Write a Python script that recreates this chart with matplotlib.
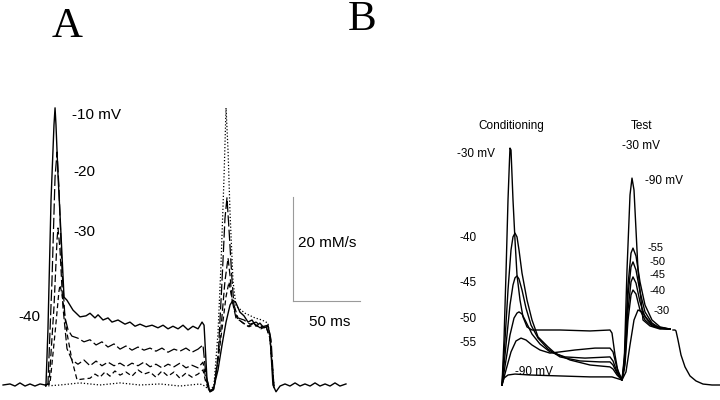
import matplotlib
matplotlib.use("Agg")
import matplotlib.pyplot as plt

# ---------------- Panel A: rate of Ca release (mM/s) vs time (ms) ----------------
# conditioning -10 mV (solid)
a10_t = [-31.3, -26.1, -22.4, -18.7, -14.9, -11.2, -7.5, -3.7, 0, 0.7, 2.2, 4.5, 6.7, 7.5, 8.2, 9.7,
         11.9, 14.2, 16.4, 20.9, 26.1, 30.6, 33.6, 37.3, 39.6, 43.3, 47.0, 50.0, 54.5, 59.7, 63.4,
         67.2, 70.9, 75.4, 79.9, 84.3, 88.1, 91.8, 95.5, 99.3, 103.0, 106.7, 110.4, 114.2, 117.2,
         118.7, 120.9, 123.1, 125.4, 129.1, 132.1, 135.1, 138.1, 140.3, 142.5, 145.5, 148.5, 151.5,
         154.5, 157.5, 160.4, 163.4, 166.4, 167.9, 170.1, 172.4, 175.4, 179.1, 182.8, 186.6, 190.3,
         194.0, 197.8, 201.5, 205.2, 209.0, 212.7, 216.4, 220.1, 224.6]
a10_v = [0, 0.2, -0.2, 0.4, -0.2, 0.2, -0.2, 0.2, 0, -0.2, 10.6, 35.6, 50.0, 53.3, 50.0, 40.4,
         29.2, 16.9, 16.3, 14.4, 13.1, 13.3, 13.8, 12.9, 13.5, 12.5, 12.9, 12.1, 12.5, 11.7, 12.1,
         11.3, 11.7, 11.2, 11.5, 11.0, 11.5, 10.8, 11.3, 10.8, 11.5, 10.6, 11.3, 10.8, 12.1,
         11.5, 1.0, -1.3, -1.0, 2.9, 7.7, 12.1, 15.4, 16.3, 15.8, 14.0, 13.3, 12.1,
         12.5, 11.3, 11.9, 11.0, 11.3, 9.6, 0, -1.3, -0.2, 0.2, -0.2, 0.4, -0.2,
         0.2, -0.2, 0.4, -0.2, 0.2, -0.2, 0.4, -0.2, 0.2]

# conditioning -20 mV (long dash)
a20_t = [0, 2.2, 5.2, 7.5, 9.0, 10.4, 12.7, 14.9, 17.2, 20.1, 24.6, 29.1, 33.6, 38.1, 42.5, 47.0,
         51.5, 56.0, 60.4, 64.9, 69.4, 73.9, 78.4, 82.8, 87.3, 91.8, 96.3, 100.7, 105.2, 109.7,
         114.2, 117.9, 120.1, 123.1, 126.1, 129.1, 132.1, 134.3, 135.8, 137.3, 139.6, 141.0, 144.0,
         148.5, 153.0, 157.5, 161.9, 166.4, 168.7, 170.9]
a20_v = [0, 0.2, 20.0, 40.0, 44.8, 38.0, 22.0, 13.0, 10.6, 9.4, 9.0, 8.3, 8.7, 7.7, 8.3, 7.3,
         7.9, 6.9, 7.5, 6.7, 7.3, 6.7, 7.1, 6.5, 7.1, 6.3, 6.9, 6.5, 7.1, 6.3,
         6.9, 7.7, 1.9, -1.2, -0.6, 5.0, 20.0, 32.0, 36.0, 30.0, 20.0, 15.4, 12.9,
         12.5, 11.7, 12.1, 11.2, 11.5, 8.7, -0.6]

# conditioning -30 mV (dash)
a30_t = [0, 3.0, 6.7, 9.0, 9.7, 11.2, 13.4, 16.4, 20.1, 24.6, 29.1, 33.6, 38.1, 42.5, 47.0, 51.5,
         56.0, 60.4, 64.9, 69.4, 73.9, 78.4, 82.8, 87.3, 91.8, 96.3, 100.7, 105.2, 109.7, 114.2,
         117.9, 120.1, 123.1, 126.1, 130.6, 134.3, 136.6, 138.1, 139.6, 142.5, 147.0, 151.5, 156.0,
         160.4, 164.9, 167.9, 170.9]
a30_v = [0, 0.2, 15.0, 28.0, 30.2, 26.0, 15.0, 7.0, 4.8, 4.0, 4.8, 3.7, 4.6, 3.7, 4.4, 3.7,
         4.2, 3.5, 4.2, 3.7, 4.4, 3.5, 4.0, 3.3, 4.0, 3.5, 4.2, 3.3, 3.8, 3.3,
         4.4, 1.0, -1.2, -0.6, 8.7, 20.0, 24.4, 21.0, 16.3, 12.9, 12.1, 11.3, 11.9,
         11.0, 11.3, 9.0, -0.6]

# conditioning -40 mV (short dash)
a40_t = [0, 3.7, 7.5, 10.4, 11.2, 12.7, 16.4, 20.1, 23.9, 29.9, 33.6, 37.3, 41.0, 44.8, 48.5, 52.2,
         56.0, 60.4, 64.9, 69.4, 73.9, 78.4, 82.8, 87.3, 91.8, 96.3, 100.7, 105.2, 109.7, 114.2,
         117.9, 120.1, 123.1, 126.1, 130.6, 135.1, 137.3, 140.3, 143.3, 147.8, 152.2, 156.7, 161.2,
         164.9, 167.9, 170.9]
a40_v = [0, 0.2, 10.0, 18.0, 19.2, 17.5, 10.0, 4.8, 1.0, 1.2, 1.3, 2.1, 1.5, 2.5, 1.7, 2.7,
         1.9, 2.5, 1.7, 2.9, 2.1, 2.5, 1.5, 2.7, 1.7, 2.5, 1.3, 2.3, 1.5, 2.1,
         2.9, 0.4, -1.3, -0.8, 7.7, 17.0, 19.8, 15.4, 12.9, 11.9, 11.2, 11.7, 10.8,
         11.3, 9.0, -0.6]

# no conditioning response (dotted)
a50_t = [0, 11.2, 26.1, 41.0, 56.0, 70.9, 85.8, 100.7, 115.7, 119.4, 123.1, 126.1, 129.1, 131.3,
         133.6, 135.1, 136.6, 138.1, 140.3, 142.5, 149.3, 156.7, 161.9, 166.4, 167.9, 170.9]
a50_v = [-0.2, 0, 0.4, 0, 0.4, 0, 0.2, -0.2, 0.2, -0.2, -1.2, 0, 10.0, 22.9,
         40.0, 53.3, 45.0, 33.0, 20.0, 15.2, 13.8, 12.9, 12.5, 11.9, 8.7, -0.2]

a_labels = ["-10 mV", "-20", "-30", "-40"]
scale_rate = 20   # mM/s
scale_time = 50   # ms

# ---------------- Panel B: normalized release vs time ----------------
b_labels_cond = ["-30 mV", "-40", "-45", "-50", "-55"]
b_labels_test = ["-55", "-50", "-45", "-40", "-30"]

b30_t = [0, 2, 4, 6, 7.5, 8, 9, 11, 13, 15, 18, 21, 25, 30, 58, 88, 108, 110, 113, 116, 120,
         124, 128, 132, 136, 140, 146, 154, 168]
b30_v = [0, 18.9, 47.0, 77.7, 94.5, 99.5, 98.7, 77.7, 60.9, 46.2, 35.7, 28.6, 24.4, 23.1, 23.1,
         22.7, 23.1, 21.8, 12.6, 5.5, 2.1, 5.5, 16.8, 27.3, 31.5, 30.7, 27.3, 24.4, 23.5]

b40_t = [0, 3, 6, 9, 11, 13, 15, 17, 20, 25, 30, 36, 46, 53, 68, 88, 108, 111, 115, 120, 123,
         126, 129, 131, 134, 138, 143, 150, 158, 168]
b40_v = [0, 18.9, 39.9, 56.7, 62.2, 63.8, 62.2, 56.7, 47.0, 35.7, 27.3, 20.2, 16.0, 13.4, 10.5,
         8.4, 7.6, 6.7, 4.2, 2.1, 8.4, 27.3, 37.8, 39.9, 38.2, 31.5, 27.3, 24.8, 23.9, 23.5]

b45_t = [0, 4, 8, 11, 13, 15, 17, 20, 24, 29, 36, 46, 58, 78, 98, 108, 111, 115, 120, 123, 126,
         129, 131, 134, 138, 143, 150, 158, 168]
b45_v = [0, 16.8, 33.6, 42.0, 45.0, 45.8, 44.5, 39.9, 32.3, 25.2, 19.7, 15.1, 11.8, 10.1, 9.7,
         9.7, 8.4, 5.0, 2.1, 10.5, 31.5, 43.3, 45.4, 42.8, 34.9, 28.6, 25.2, 23.9, 23.5]

b50_t = [0, 4, 8, 12, 15, 17, 20, 24, 30, 38, 48, 63, 83, 108, 111, 115, 120, 123, 126, 129, 131,
         134, 138, 143, 150, 158, 168]
b50_v = [0, 10.5, 21.0, 28.1, 30.2, 30.7, 29.8, 26.5, 21.4, 17.2, 13.9, 11.8, 11.3, 11.8, 10.1,
         5.5, 2.1, 12.6, 37.8, 49.6, 51.7, 48.3, 39.1, 30.7, 26.0, 23.9, 23.5]

b55_t = [0, 4, 9, 14, 19, 24, 30, 38, 48, 58, 73, 93, 108, 111, 115, 120, 123, 126, 129, 131, 134,
         138, 143, 150, 158, 168]
b55_v = [0, 6.3, 13.9, 18.5, 19.7, 18.9, 16.8, 14.7, 13.4, 13.9, 14.7, 15.5, 15.5, 13.9, 7.1, 2.1,
         14.7, 42.0, 55.4, 57.5, 54.2, 43.3, 33.6, 27.3, 24.4, 23.5]

b90_t = [0, 2, 6, 13, 28, 58, 88, 110, 120, 122, 125, 128, 130, 132, 136, 141, 148, 158, 168]
b90_v = [0, 2.9, 4.2, 4.6, 4.2, 3.8, 3.4, 3.4, 2.1, 6.3, 48.3, 79.8, 86.9, 81.9, 48.3, 27.3, 24.8,
         23.5, 23.5]

# shared tail after the test pulse
btail_t = [171, 173, 174, 176, 179, 183, 188, 194, 201, 210, 218]
btail_v = [23.1, 23.1, 22.7, 18.9, 12.6, 7.6, 3.8, 1.7, 0.4, 0, 0]

plt.rcParams["font.family"] = ["Liberation Sans", "DejaVu Sans"]
fig = plt.figure(figsize=(7.2, 4.0), dpi=100)

# panel A axes spans the left half of the figure
axA = fig.add_axes([0, 0, 0.5, 1])
axA.set_xlim(-33.58, 235.07)
axA.set_ylim(-2.885, 74.04)
axA.axis("off")

axA.plot(a50_t, a50_v, color="k", lw=0.9, ls=(0, (1, 1.6)))
axA.plot(a40_t, a40_v, color="k", lw=0.9, ls=(0, (4, 2.5)))
axA.plot(a30_t, a30_v, color="k", lw=0.9, ls=(0, (6, 2.5)))
axA.plot(a20_t, a20_v, color="k", lw=0.9, ls=(0, (9, 2.5)))
axA.plot(a10_t, a10_v, color="k", lw=1.0)

# scale bar
sx0 = 185.1
sy0 = 16.15
axA.plot([sx0, sx0], [sy0, sy0 + scale_rate], color="#9a9a9a", lw=0.8, clip_on=False)
axA.plot([sx0, sx0 + scale_time], [sy0, sy0], color="#9a9a9a", lw=0.8, clip_on=False)

# panel B axes spans the right half
axB = fig.add_axes([0.5, 0, 0.5, 1])
axB.set_xlim(-142, 218)
axB.set_ylim(-6.3, 161.7)
axB.axis("off")

for t, v in [(b30_t, b30_v), (b40_t, b40_v), (b45_t, b45_v), (b50_t, b50_v),
             (b55_t, b55_v), (b90_t, b90_v)]:
    axB.plot(t, v, color="k", lw=1.0)
axB.plot(btail_t, btail_v, color="k", lw=1.0)


def ftext(x, y, s, **kw):
    # place text using pixel position of the 720x400 figure
    fig.text(x / 720, 1 - y / 400, s, **kw)


# panel letters
ftext(67, 37, "A", family="Liberation Serif", fontsize=31, ha="center", va="baseline")
ftext(362, 30, "B", family="Liberation Serif", fontsize=31, ha="center", va="baseline")

# panel A labels
fsA = 11
ftext(72, 115, a_labels[0], fontsize=fsA, va="center")
ftext(73, 172, a_labels[1], fontsize=fsA, va="center")
ftext(73, 232, a_labels[2], fontsize=fsA, va="center")
ftext(18, 317, a_labels[3], fontsize=fsA, va="center")
ftext(298, 243, "%d mM/s" % scale_rate, fontsize=fsA, va="center")
ftext(330, 322, "%d ms" % scale_time, fontsize=fsA, va="center", ha="center")

# panel B labels
fsB = 8.5
ftext(511, 126, "Conditioning", fontsize=fsB, ha="center", va="center")
ftext(642, 126, "Test", fontsize=fsB, ha="center", va="center")
ftext(457, 154, b_labels_cond[0], fontsize=fsB, va="center")
ftext(622, 146, "-30 mV", fontsize=fsB, va="center")
ftext(645, 181, "-90 mV", fontsize=fsB, va="center")
for lab, y in zip(b_labels_cond[1:], [238, 283, 319, 343]):
    ftext(460, y, lab, fontsize=fsB, va="center")
ftext(515, 372, "-90 mV", fontsize=fsB, va="center")
for lab, x, y in zip(b_labels_test, [648, 650, 649, 650, 653], [248, 262, 275, 291, 311]):
    ftext(x, y, lab, fontsize=fsB - 0.5, va="center")

fig.savefig("out.png", dpi=100)
